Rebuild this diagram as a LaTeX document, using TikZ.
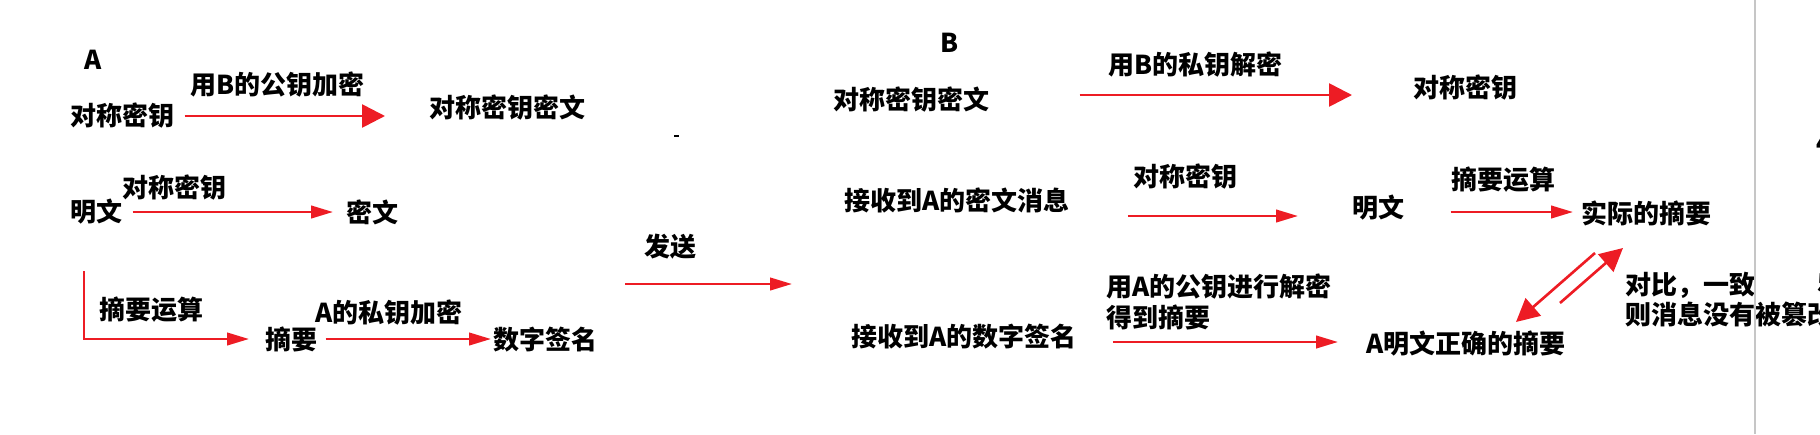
\documentclass[tikz,border=0pt]{standalone}
\usepackage{fontspec}
\setmainfont{Noto Sans CJK SC}
\usepackage{xcolor}
\usetikzlibrary{positioning, arrows.meta, calc}
\definecolor{paintred}{RGB}{237,28,36}

\begin{document}
\begin{tikzpicture}[
    x=0.02cm, y=-0.02cm,
    txt/.style={anchor=west, inner sep=0pt, align=left, font=\fontsize{14.8}{15.5}\selectfont\bfseries},
    big_arrow/.style={-{Triangle[length=0.46cm, width=0.46cm]}, line width=1.5pt, color=paintred},
    small_arrow/.style={-{Triangle[length=0.44cm, width=0.25cm]}, line width=1.5pt, color=paintred}
]
\useasboundingbox (0,0) rectangle (1820,434);
\clip (0,0) rectangle (1820,434);

% Side A
\node[txt, anchor=center] (side_a) at (93,60) {A};
\node[txt] (symkey) at (70,116) {对称密钥};
\node[txt] (symenc) at (429,108) {对称密钥密文};
\node[txt] (plain) at (70,212) {明文};
\node[txt] (cipher) at (346,212) {密文};
\node[txt] (digest) at (265,339) {摘要};
\node[txt] (sig) at (493,340) {数字签名};

\node[txt] (lbl_pub) at (190,85) {用B的公钥加密};
\node[txt] (lbl_sym) at (122,188) {对称密钥};
\node[txt] (lbl_hash) at (99,310) {摘要运算};
\node[txt] (lbl_priv) at (315,313) {A的私钥加密};

% Sending
\node[txt] (lbl_send) at (644,247) {发送};
\coordinate (send_l) at (625,284);
\coordinate (send_r) at (792,284);
\fill (674,135) rectangle (679,137);

% Side B
\node[txt, anchor=center] (side_b) at (950,43) {B};
\node[txt] (bsymenc) at (833,100) {对称密钥密文};
\node[txt] (bsymkey) at (1413,88) {对称密钥};
\node[txt] (recvmsg) at (844,200) {接收到A的密文消息};
\node[txt] (bplain) at (1352,208) {明文};
\node[txt] (actual) at (1581,213) {实际的摘要};
\node[txt] (recvsig) at (851,337) {接收到A的数字签名};
\node[txt] (correct) at (1366,343) {A明文正确的摘要};

\node[txt] (lbl_bpriv) at (1108,65) {用B的私钥解密};
\node[txt] (lbl_bsym) at (1133,177) {对称密钥};
\node[txt] (lbl_bhash) at (1451,180) {摘要运算};
\node[txt, font=\fontsize{14.8}{17.5}\selectfont\bfseries] (lbl_bpub) at (1106,302) {用A的公钥进行解密\\得到摘要};
\node[txt, font=\fontsize{14.8}{17}\selectfont\bfseries] (note) at (1625,300) {对比，一致\\则消息没有被篡改};

\coordinate (cmp_a1) at (1595,253);
\coordinate (cmp_b1) at (1516,322);
\coordinate (cmp_a2) at (1560,303);
\coordinate (cmp_b2) at (1623,248);
\coordinate (dstart) at (84,271);

% Page edge
\draw[gray!45, line width=1pt] (1755,0) -- (1755,434);
\node[txt] (edge4) at (1816,143) {4};
\node[txt] (edge5) at (1817,283) {5};

% Arrows A
\draw[big_arrow, shorten <=0.2cm, shorten >=0.88cm] (symkey.east) -- (symkey.east -| symenc.west);
\draw[small_arrow, shorten <=0.2cm, shorten >=0.26cm] (plain.east) -- (plain.east -| cipher.west);
\draw[small_arrow, shorten >=0.32cm] (dstart) |- (digest.west);
\draw[small_arrow, shorten <=0.16cm, shorten >=0.04cm] (digest.east) -- (digest.east -| sig.west);

\draw[small_arrow] (send_l) -- (send_r);

% Arrows B
\draw[big_arrow, shorten <=1.8cm, shorten >=1.22cm] ([yshift=0.1cm]bsymenc.east) -- ([yshift=0.1cm]bsymenc.east -| bsymkey.west);
\draw[small_arrow, shorten <=1.16cm, shorten >=1.08cm] ([yshift=-0.32cm]recvmsg.east) -- ([yshift=-0.32cm]recvmsg.east -| bplain.west);
\draw[small_arrow, shorten <=0.92cm, shorten >=0.16cm] ([yshift=-0.08cm]bplain.east) -- ([yshift=-0.08cm]bplain.east -| actual.west);
\draw[small_arrow, shorten <=0.72cm, shorten >=0.56cm] ([yshift=-0.1cm]recvsig.east) -- ([yshift=-0.1cm]recvsig.east -| correct.west);
\draw[big_arrow] (cmp_a1) -- (cmp_b1);
\draw[big_arrow] (cmp_a2) -- (cmp_b2);

\end{tikzpicture}
\end{document}
